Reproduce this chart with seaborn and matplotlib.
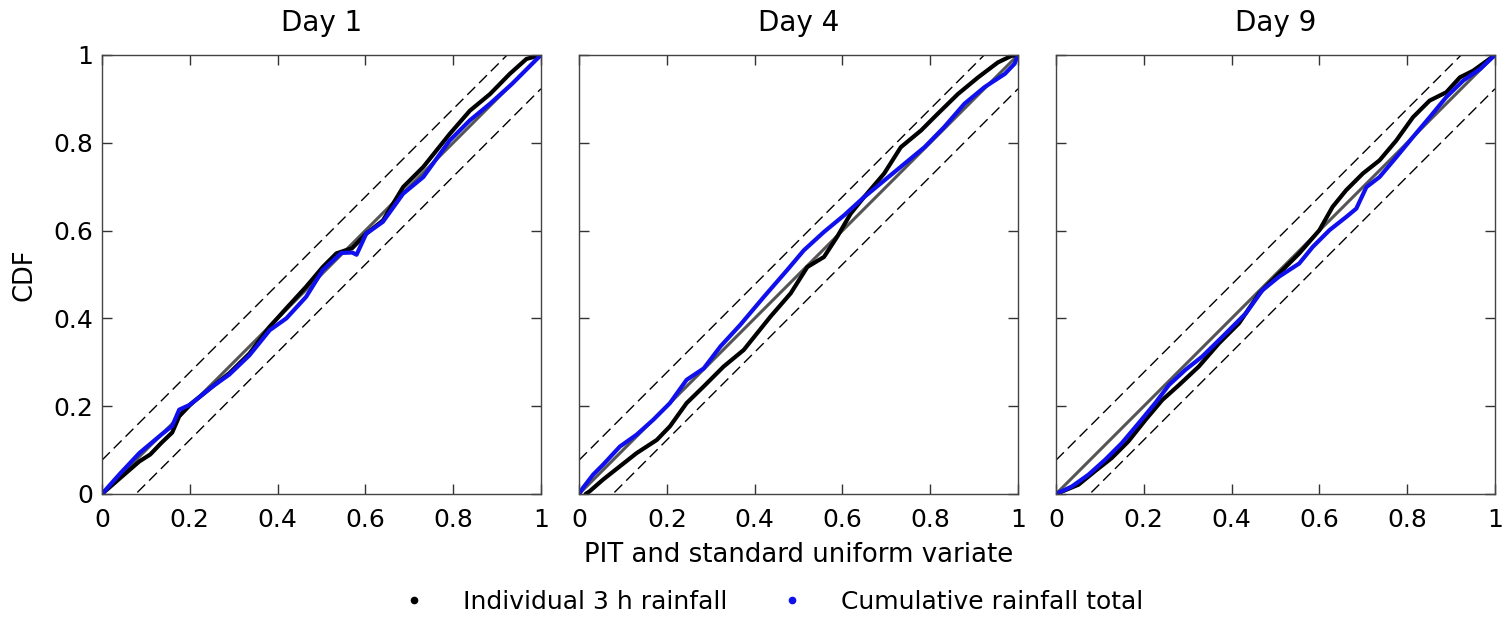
import numpy as np
import pandas as pd
import matplotlib
matplotlib.use("Agg")
import matplotlib.pyplot as plt
from matplotlib.lines import Line2D
import seaborn as sns

days = ["Day 1", "Day 4", "Day 9"]
series_names = ["Individual 3 h rainfall", "Cumulative rainfall total"]
tick_values = [0, 0.2, 0.4, 0.6, 0.8, 1]
tick_labels = ["0", "0.2", "0.4", "0.6", "0.8", "1"]
band = 0.077

# Day 1
d1_ind_x = [0, 0.04, 0.085, 0.11, 0.135, 0.16, 0.176, 0.2, 0.252, 0.29, 0.336, 0.382, 0.42, 0.465, 0.503, 0.534,
            0.57, 0.602, 0.64, 0.686, 0.732, 0.792, 0.838, 0.884, 0.929, 0.967, 1.0]
d1_ind_y = [0, 0.035, 0.074, 0.09, 0.116, 0.14, 0.177, 0.203, 0.245, 0.275, 0.32, 0.381, 0.423, 0.472, 0.517, 0.548,
            0.56, 0.593, 0.623, 0.699, 0.745, 0.82, 0.873, 0.911, 0.957, 0.991, 1.0]
d1_cum_x = [0, 0.04, 0.085, 0.135, 0.16, 0.176, 0.2, 0.252, 0.29, 0.336, 0.382, 0.42, 0.465, 0.503, 0.545,
            0.57, 0.58, 0.602, 0.64, 0.686, 0.732, 0.792, 0.838, 0.884, 0.934, 0.968, 1.0]
d1_cum_y = [0, 0.045, 0.093, 0.135, 0.155, 0.192, 0.203, 0.245, 0.272, 0.316, 0.373, 0.40, 0.449, 0.51, 0.549,
            0.55, 0.545, 0.593, 0.62, 0.684, 0.722, 0.805, 0.851, 0.889, 0.934, 0.968, 1.0]
# Day 4
d4_ind_x = [0.015, 0.024, 0.055, 0.093, 0.131, 0.177, 0.207, 0.245, 0.284, 0.329, 0.375, 0.436, 0.482,
            0.52, 0.558, 0.588, 0.619, 0.649, 0.695, 0.733, 0.779, 0.817, 0.863, 0.909, 0.954, 0.985, 1.0]
d4_ind_y = [0.0, 0.006, 0.033, 0.063, 0.093, 0.123, 0.154, 0.207, 0.245, 0.29, 0.328, 0.404, 0.457,
            0.517, 0.54, 0.586, 0.639, 0.676, 0.73, 0.79, 0.828, 0.866, 0.911, 0.949, 0.983, 0.998, 1.0]
d4_cum_x = [0, 0.009, 0.032, 0.055, 0.093, 0.131, 0.169, 0.207, 0.245, 0.284, 0.322, 0.367, 0.421, 0.474,
            0.512, 0.558, 0.604, 0.649, 0.695, 0.741, 0.787, 0.832, 0.878, 0.924, 0.97, 0.992, 1.0]
d4_cum_y = [0, 0.014, 0.044, 0.067, 0.108, 0.135, 0.169, 0.207, 0.26, 0.286, 0.336, 0.385, 0.449, 0.51,
            0.555, 0.597, 0.635, 0.676, 0.714, 0.752, 0.79, 0.836, 0.889, 0.927, 0.957, 0.98, 1.0]
# Day 9
d9_ind_x = [0, 0.051, 0.089, 0.127, 0.165, 0.204, 0.242, 0.28, 0.325, 0.371, 0.417, 0.463, 0.508, 0.554,
            0.6, 0.63, 0.661, 0.699, 0.737, 0.775, 0.813, 0.851, 0.889, 0.92, 0.95, 1.0]
d9_ind_y = [0, 0.021, 0.052, 0.082, 0.12, 0.169, 0.214, 0.248, 0.29, 0.343, 0.389, 0.457, 0.502, 0.548,
            0.601, 0.654, 0.692, 0.73, 0.76, 0.805, 0.858, 0.896, 0.915, 0.949, 0.964, 1.0]
d9_cum_x = [0, 0.036, 0.074, 0.112, 0.15, 0.188, 0.226, 0.257, 0.295, 0.333, 0.379, 0.432, 0.47, 0.508,
            0.554, 0.585, 0.623, 0.661, 0.684, 0.707, 0.737, 0.775, 0.813, 0.851, 0.889, 0.928, 0.966, 1.0]
d9_cum_y = [0, 0.017, 0.044, 0.078, 0.116, 0.161, 0.207, 0.248, 0.283, 0.313, 0.358, 0.411, 0.464, 0.495,
            0.525, 0.563, 0.601, 0.631, 0.65, 0.699, 0.722, 0.767, 0.813, 0.858, 0.904, 0.942, 0.968, 1.0]

curves = {
    "Day 1": [(d1_ind_x, d1_ind_y), (d1_cum_x, d1_cum_y)],
    "Day 4": [(d4_ind_x, d4_ind_y), (d4_cum_x, d4_cum_y)],
    "Day 9": [(d9_ind_x, d9_ind_y), (d9_cum_x, d9_cum_y)],
}
rows = []
for day in days:
    for name, (xs, ys) in zip(series_names, curves[day]):
        for xv, yv in zip(xs, ys):
            rows.append({"day": day, "series": name, "x": xv, "y": yv})
df = pd.DataFrame(rows)

sns.set_theme(style="white")
plt.rcParams['font.family'] = ['DejaVu Sans']
plt.rcParams['text.color'] = 'black'
plt.rcParams['axes.labelcolor'] = 'black'
plt.rcParams['xtick.color'] = 'black'
plt.rcParams['ytick.color'] = 'black'
palette = {series_names[0]: "black", series_names[1]: "#1010ee"}

fig = plt.figure(figsize=(15.06, 6.17), dpi=100)
lefts = [0.0677, 0.3845, 0.7012]
for i, day in enumerate(days):
    ax = fig.add_axes([lefts[i], 0.1994, 0.2915, 0.7115])
    diag = np.array([0, 1])
    ax.plot(diag, diag, color="#555555", lw=2.2, zorder=1)
    ax.plot(diag, diag + band, color="black", lw=1.0, ls=(0, (8, 4)), zorder=1)
    ax.plot(diag, diag - band, color="black", lw=1.0, ls=(0, (8, 4)), zorder=1)
    sub = df[df["day"] == day]
    sns.lineplot(data=sub, x="x", y="y", hue="series", palette=palette, sort=False,
                 estimator=None, lw=3.0, legend=False, ax=ax, zorder=2)
    ax.set_xlim(0, 1)
    ax.set_ylim(0, 1)
    ax.set_xticks(tick_values)
    ax.set_yticks(tick_values)
    ax.set_xticklabels(tick_labels)
    if i == 0:
        ax.set_yticklabels(tick_labels)
        ax.set_ylabel("CDF", fontsize=18.5, labelpad=12)
    else:
        ax.set_yticklabels([])
        ax.set_ylabel("")
    ax.set_xlabel("")
    ax.tick_params(direction="in", length=7, width=1, color="#333333", top=True, right=True,
                   bottom=True, left=True, labelsize=18)
    ax.tick_params(axis="x", pad=10)
    ax.tick_params(axis="y", pad=6)
    for sp in ax.spines.values():
        sp.set_color("#444444")
        sp.set_linewidth(1.0)
    ax.set_title(day, fontsize=20, pad=17)

fig.text(0.53, 0.1, "PIT and standard uniform variate", ha="center", va="center", fontsize=18.7)

handles = [Line2D([], [], ls="none", marker="o", markersize=4.5, color=palette[n]) for n in series_names]
fig.legend(handles, series_names, loc="center", bbox_to_anchor=(0.513, 0.024), ncol=2, frameon=False,
           fontsize=18, handlelength=1.0, handletextpad=1.45, columnspacing=2.1)

fig.savefig("out.png", dpi=100)
